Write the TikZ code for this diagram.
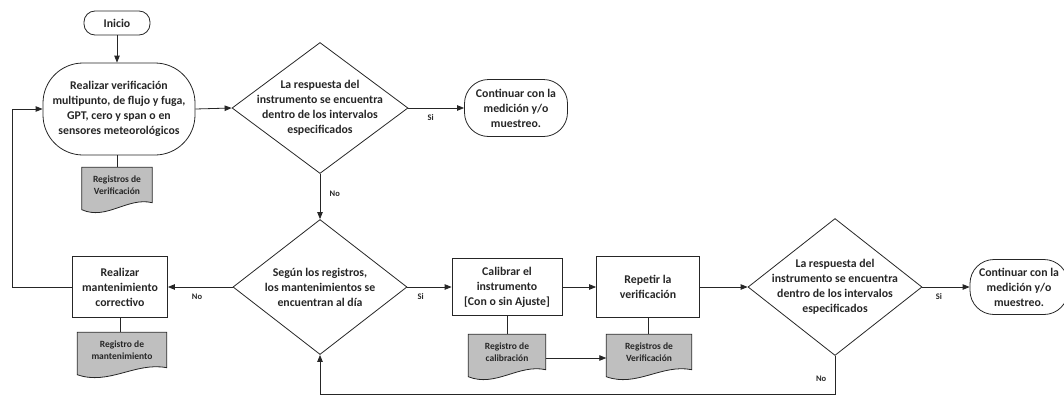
\documentclass[tikz,border=0pt]{standalone}
\usepackage{fontspec}
\setmainfont{Carlito}
\usetikzlibrary{shapes.geometric,arrows.meta,calc,backgrounds}
\begin{document}
\begin{tikzpicture}[x=1pt,y=-1pt,
  ln/.style={draw=black!85, line width=0.8pt},
  arr/.style={ln, -{Triangle[length=7pt,width=5.5pt]}},
  txt/.style={font=\bfseries\fontsize{11.8}{15}\selectfont, align=center, text=black!85},
  term/.style={txt, ln, rectangle, inner sep=0pt},
  proc/.style={txt, ln, rectangle, inner sep=0pt},
  dia/.style={diamond, ln, inner sep=0pt},
  doctxt/.style={font=\bfseries\fontsize{9.5}{12}\selectfont, align=center, text=black!85, inner sep=0pt, minimum height=35pt},
  doc/.style={ln, fill=black!25},
  lab/.style={font=\bfseries\fontsize{8.5}{9}\selectfont, text=black!85}
]
\useasboundingbox (0,0) rectangle (1064,399);

% top row
\node[term, rounded corners=11pt, minimum width=66pt, minimum height=24pt] (ini) at (117,23) {Inicio};
\node[term, rounded corners=40pt, minimum width=152pt, minimum height=92pt] (rv) at (119,109)
  {Realizar verificación\\multipunto, de flujo y fuga,\\GPT, cero y span o en\\sensores meteorológicos};
\node[doctxt, minimum width=70pt] (doc1) at (117,185) {Registros de\\Verificación};
\node[dia, minimum width=176pt, minimum height=131pt] (d1) at (320,108) {};
\node[txt] (d1t) at (d1) {La respuesta del\\instrumento se encuentra\\dentro de los intervalos\\especificados};
\node[term, rounded corners=24pt, minimum width=103pt, minimum height=57pt] (c1) at (516,108)
  {Continuar con la\\medición y/o\\muestreo.};

% bottom row
\node[proc, minimum width=95pt, minimum height=61pt] (rm) at (120,287) {Realizar\\mantenimiento\\correctivo};
\node[doctxt, minimum width=89pt] (doc2) at (122,350) {Registro de\\mantenimiento};
\node[dia, minimum width=174pt, minimum height=135pt] (d2) at (320,287) {};
\node[txt] (d2t) at (d2) {Según los registros,\\los mantenimientos se\\encuentran al día};
\node[proc, minimum width=110pt, minimum height=57pt] (cal) at (507,287) {Calibrar el\\instrumento\\{[}Con o sin Ajuste{]}};
\node[doctxt, minimum width=77pt] (doc3) at (507,352) {Registro de\\calibración};
\node[proc, minimum width=103pt, minimum height=61pt] (rep) at (648,287) {Repetir la\\verificación};
\node[doctxt, minimum width=85pt] (doc4) at (649,352) {Registros de\\Verificación};
\node[dia, minimum width=174pt, minimum height=137pt] (d3) at (835,287) {};
\node[txt] (d3t) at (d3) {La respuesta del\\instrumento se encuentra\\dentro de los intervalos\\especificados};
\node[term, rounded corners=24pt, minimum width=98pt, minimum height=55pt] (c2) at (1019,287)
  {Continuar con la\\medición y/o\\muestreo.};

% document shapes
\begin{pgfonlayer}{background}
\foreach \d in {doc1,doc2,doc3,doc4}{
  \path let \p1=(\d.south west), \p2=(\d.south east) in
    \pgfextra{\pgfmathsetmacro{\w}{\x2-\x1}\xdef\dw{\w}};
  \draw[doc] (\d.north west) -- (\d.north east) -- (\d.south east)
    .. controls ([xshift=-0.35*\dw pt, yshift=6pt]\d.south east) and ([xshift=0.35*\dw pt, yshift=-18pt]\d.south west)
    .. ([yshift=-7pt]\d.south west) -- cycle;
}
\end{pgfonlayer}

% connectors
\coordinate (lc) at (12,0);
\coordinate (bl) at (0,394);
\draw[arr] (ini) -- (ini |- rv.north);
\draw[ln] (rv.south -| doc1) -- (doc1.north);
\draw[arr] (rv.east) -- (d1.west);
\draw[arr] (d1.east) -- (c1.west) node[lab, pos=0.4, below=3pt] {Si};
\draw[arr] (d1.south) -- (d2.north) node[lab, pos=0.45, right=6pt] {No};
\draw[arr] (d2.west) -- (rm.east) node[lab, pos=0.55, below=3pt] {No};
\draw[ln] (rm.south) -- (rm.south |- doc2.north);
\draw[arr] (rm.west) -- (rm.west -| lc) |- (rv.west);
\draw[arr] (d2.east) -- (cal.west) node[lab, pos=0.3, below=3pt] {Si};
\draw[ln] (cal.south) -- (cal.south |- doc3.north);
\draw[arr] (cal.east) -- (rep.west);
\draw[arr] ([yshift=-6pt]doc3.east) -- ([yshift=-6pt]doc4.west);
\draw[ln] (rep.south) -- (rep.south |- doc4.north);
\draw[arr] (rep.east) -- (d3.west);
\draw[arr] (d3.east) -- (c2.west) node[lab, pos=0.35, below=3pt] {Si};
\draw[arr] (d3.south) -- node[lab, pos=0.6, left=5pt] {No} (d3.south |- bl) -| (d2.south);
\end{tikzpicture}
\end{document}
